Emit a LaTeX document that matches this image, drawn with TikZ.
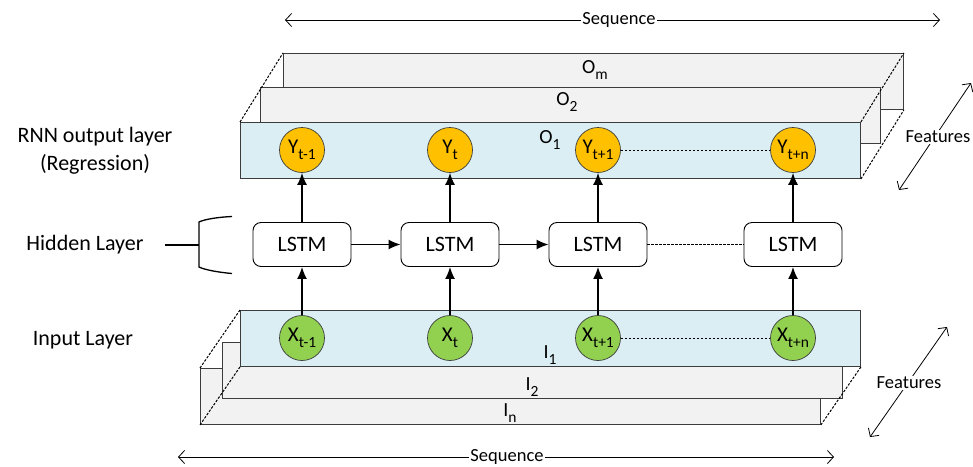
\documentclass[tikz,border=0pt]{standalone}
\usepackage{fontspec}
\setmainfont{Carlito}
\usetikzlibrary{arrows.meta}
\definecolor{lblue}{HTML}{DAEEF3}
\definecolor{lgray}{HTML}{F2F2F2}
\definecolor{yorange}{HTML}{FFC000}
\definecolor{xgreen}{HTML}{92D050}
\definecolor{edgec}{HTML}{3C3C3C}
\newcommand{\mysub}[1]{\raisebox{-0.28em}{\fontsize{15.5}{15.5}\selectfont #1}}
\tikzset{
  layerbox/.style={draw=edgec, line width=0.9pt, minimum width=620pt, minimum height=56pt, anchor=north west, inner sep=0pt},
  frontbox/.style={layerbox, fill=lblue},
  backbox/.style={layerbox, fill=lgray},
  ynode/.style={circle, draw=edgec, line width=0.7pt, fill=yorange, minimum size=45pt, inner sep=0pt, font=\fontsize{21}{21}\selectfont},
  xnode/.style={circle, draw=edgec, line width=0.7pt, fill=xgreen, minimum size=45pt, inner sep=0pt, font=\fontsize{21}{21}\selectfont},
  lstm/.style={draw=black, rounded corners=8pt, minimum width=98pt, minimum height=44pt, fill=white, line width=0.9pt, font=\fontsize{22}{22}\selectfont},
  flow/.style={line width=1.5pt, -{Latex[length=12pt,width=10pt]}},
  dots/.style={line width=1pt, dash pattern=on 2.5pt off 1.5pt},
  scalearrow/.style={line width=0.8pt, {Straight Barb[length=6pt,width=13pt]}-{Straight Barb[length=6pt,width=13pt]}},
  lab/.style={font=\fontsize{22}{28}\selectfont, align=center},
  sublab/.style={font=\fontsize{20}{20}\selectfont, inner sep=0pt},
  scalelab/.style={font=\fontsize{18.5}{20}\selectfont, fill=white, inner sep=1pt}
}
\begin{document}
\begin{tikzpicture}[x=1pt,y=-1pt]
\useasboundingbox (0,0) rectangle (973,466);

% output layer stack
\node[backbox] (Om) at (283,53) {};
\node[backbox] (O2) at (260,87) {};
\node[frontbox] (O1) at (240,122) {};
\draw[dots] (O1.north west) -- (Om.north west);
\draw[dots] (O1.north east) -- (Om.north east);
\draw[dots] (O1.south east) -- (Om.south east);
\node[sublab] (lOm) at (595,70) {O\mysub{m}};
\node[sublab] (lO2) at (567,102) {O\mysub{2}};
\node[sublab] (lO1) at (550,140) {O\mysub{1}};

% input layer stack
\node[backbox] (In) at (200,368) {};
\node[backbox] (I2) at (222,342) {};
\node[frontbox] (I1) at (240,310) {};
\draw[dots] (I1.north west) -- (In.north west);
\draw[dots] (I1.south west) -- (In.south west);
\draw[dots] (I1.south east) -- (In.south east);
\node[sublab] (lI1) at (550,355) {I\mysub{1}};
\node[sublab] (lI2) at (532,387) {I\mysub{2}};
\node[sublab] (lIn) at (510,413) {I\mysub{n}};

% output circles
\node[ynode] (y1) at (302,150) {Y\mysub{t-1}};
\node[ynode] (y2) at (450,150) {Y\mysub{t}};
\node[ynode] (y3) at (598,150) {Y\mysub{t+1}};
\node[ynode] (y4) at (793,150) {Y\mysub{t+n}};
\draw[dots] (y3) -- (y4);

% input circles
\node[xnode] (x1) at (302,338) {X\mysub{t-1}};
\node[xnode] (x2) at (450,338) {X\mysub{t}};
\node[xnode] (x3) at (598,338) {X\mysub{t+1}};
\node[xnode] (x4) at (793,338) {X\mysub{t+n}};
\draw[dots] (x3) -- (x4);

% hidden LSTM cells
\node[lstm] (h1) at (302,244.5) {LSTM};
\node[lstm] (h2) at (450,244.5) {LSTM};
\node[lstm] (h3) at (598,244.5) {LSTM};
\node[lstm] (h4) at (793,244.5) {LSTM};
\draw[flow] (h1) -- (h2);
\draw[flow] (h2) -- (h3);
\draw[dots] (h3) -- (h4);
\foreach \i in {1,2,3,4}{
  \draw[flow] (x\i) -- (h\i);
  \draw[flow] (h\i) -- (y\i);
}

% left labels
\node[lab] (outlab) at (95,151) {RNN output layer\\(Regression)};
\node[lab] (hidlab) at (85,245) {Hidden Layer};
\node[lab] (inlab) at (83,340) {Input Layer};
\coordinate (brkL) at (165,245);
\coordinate (brk) at (199,245);
\draw[line width=1.3pt] (brkL) -- (brk);
\draw[line width=1.3pt] (232,216.5) .. controls (220,217) and (205,219) .. (199,222) -- (199,267) .. controls (205,270) and (220,272.5) .. (232,273.5);

% sequence arrows
\coordinate (sqTL) at (285,20);
\coordinate (sqTR) at (940,20);
\draw[scalearrow] (sqTL) -- (sqTR);
\node[scalelab] (sqT) at (619,20) {Sequence};
\coordinate (sqBL) at (178,457);
\coordinate (sqBR) at (834,457);
\draw[scalearrow] (sqBL) -- (sqBR);
\node[scalelab] (sqB) at (507,457) {Sequence};

% features arrows
\coordinate (ftA) at (899,190);
\coordinate (ftB) at (971,83);
\draw[scalearrow] (ftA) -- (ftB);
\node[scalelab] (ftT) at (938,137) {Features};
\coordinate (fbA) at (870,437);
\coordinate (fbB) at (947,327);
\draw[scalearrow] (fbA) -- (fbB);
\node[scalelab] (ftB2) at (909,383) {Features};
\end{tikzpicture}
\end{document}
